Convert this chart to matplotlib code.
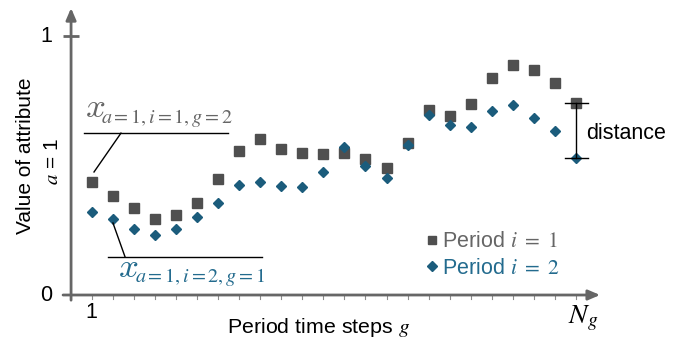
import matplotlib
matplotlib.use("Agg")
import matplotlib.pyplot as plt
from matplotlib.lines import Line2D

plt.rcParams['font.family'] = ['Liberation Sans', 'DejaVu Sans']
plt.rcParams['mathtext.fontset'] = 'stix'

# ---- data ----
steps = list(range(1, 25))
period1 = [0.437, 0.383, 0.335, 0.293, 0.308, 0.356, 0.447, 0.557, 0.601, 0.564,
           0.549, 0.544, 0.547, 0.525, 0.489, 0.588, 0.714, 0.690, 0.736, 0.839,
           0.888, 0.869, 0.820, 0.740]
period2 = [0.322, 0.293, 0.255, 0.232, 0.255, 0.300, 0.356, 0.425, 0.437, 0.422,
           0.418, 0.476, 0.573, 0.499, 0.453, 0.579, 0.695, 0.656, 0.649, 0.712,
           0.734, 0.685, 0.634, 0.530]
labels = [r"Period $i\ =\ 1$", r"Period $i\ =\ 2$"]

GRAY = "#666666"
SQ = "#4f4f4f"
TEAL = "#1b5c7c"
TEAL_T = "#236b8e"

fig = plt.figure(figsize=(6.97, 3.43), dpi=100)
ax = fig.add_axes([0, 0, 1, 1])
ax.set_xlim(-3.354, 29.742)
ax.set_ylim(-0.1853, 1.139)
ax.axis('off')

# axes with arrows
ax.annotate("", xy=(25.14, 0), xytext=(-0.36, 0),
            arrowprops=dict(arrowstyle="-|>,head_length=0.7,head_width=0.3", color=GRAY, lw=2.0,
                            shrinkA=0, shrinkB=0))
ax.annotate("", xy=(0.02, 1.108), xytext=(0.02, -0.02),
            arrowprops=dict(arrowstyle="-|>,head_length=0.7,head_width=0.3", color=GRAY, lw=2.0,
                            shrinkA=0, shrinkB=0))
ax.plot([-0.36, 0.40], [1.0, 1.0], color=GRAY, lw=2.0, solid_capstyle='butt')
# minor ticks
for g in steps:
    ax.plot([g, g], [-0.004, -0.016], color="#8c8c8c", lw=0.8)

# tick labels
ax.text(-1.17, 1.0, "1", fontsize=15.5, ha='center', va='center', color='black')
ax.text(-1.17, 0.0, "0", fontsize=15.5, ha='center', va='center', color='black')
ax.text(1, -0.066, "1", fontsize=15.5, ha='center', va='center', color='black')
ax.text(24.35, -0.089, "$N_g$", fontsize=20, ha='center', va='center', color='black')
ax.text(11.75, -0.127, "Period time steps $g$", fontsize=15.4, ha='center', va='center')
ax.text(-2.15, 0.537, "Value of attribute", fontsize=15, rotation=90, ha='center', va='center')
ax.text(-0.84, 0.515, "$a$ = 1", fontsize=15, rotation=90, ha='center', va='center')

# data
ax.plot(steps, period1, 's', color=SQ, ms=7, label=labels[0], linestyle='none')
ax.plot(steps, period2, 'D', color=TEAL, ms=5.2, label=labels[1], linestyle='none')

# annotation 1 (points at the first square)
ax.plot([0.634, 7.47], [0.625, 0.625], color='black', lw=1.0)
ax.plot([2.39, 1.11], [0.625, 0.475], color='black', lw=1.0)
ax.text(0.66, 0.687, "$x$", fontsize=25, color=GRAY, ha='left', va='baseline',
        math_fontfamily='cm')
ax.text(1.45, 0.666, "$a=1,i=1,g=2$", fontsize=14.5, color=GRAY, ha='left', va='baseline')
# annotation 2 (points at the second diamond)
ax.plot([1.774, 9.09], [0.148, 0.148], color='black', lw=1.0)
ax.plot([2.01, 2.58], [0.278, 0.148], color='black', lw=1.0)
ax.text(2.25, 0.0695, "$x$", fontsize=25, color=TEAL_T, ha='left', va='baseline',
        math_fontfamily='cm')
ax.text(3.05, 0.050, "$a=1,i=2,g=1$", fontsize=14.5, color=TEAL_T, ha='left', va='baseline')

# distance bracket
ax.plot([24, 24], [period1[-1], period2[-1]], color='black', lw=1.0)
ax.plot([23.48, 24.57], [period1[-1], period1[-1]], color='black', lw=1.0)
ax.plot([23.48, 24.57], [period2[-1], period2[-1]], color='black', lw=1.0)
ax.text(24.5, (period1[-1] + period2[-1]) / 2 - 0.012, "distance", fontsize=15.5,
        ha='left', va='center')

# legend
handles = [Line2D([], [], marker='s', color=SQ, ms=6, linestyle='none'),
           Line2D([], [], marker='D', color=TEAL, ms=4.6, linestyle='none')]
leg = ax.legend(handles, labels, loc='center left', bbox_to_anchor=(16.8, 0.155),
                bbox_transform=ax.transData, frameon=False, fontsize=15.5,
                handletextpad=0.1, handlelength=0.7, labelspacing=0.25, borderpad=0,
                borderaxespad=0)
for t, c in zip(leg.get_texts(), [GRAY, TEAL_T]):
    t.set_color(c)

fig.savefig("out.png", dpi=100)
